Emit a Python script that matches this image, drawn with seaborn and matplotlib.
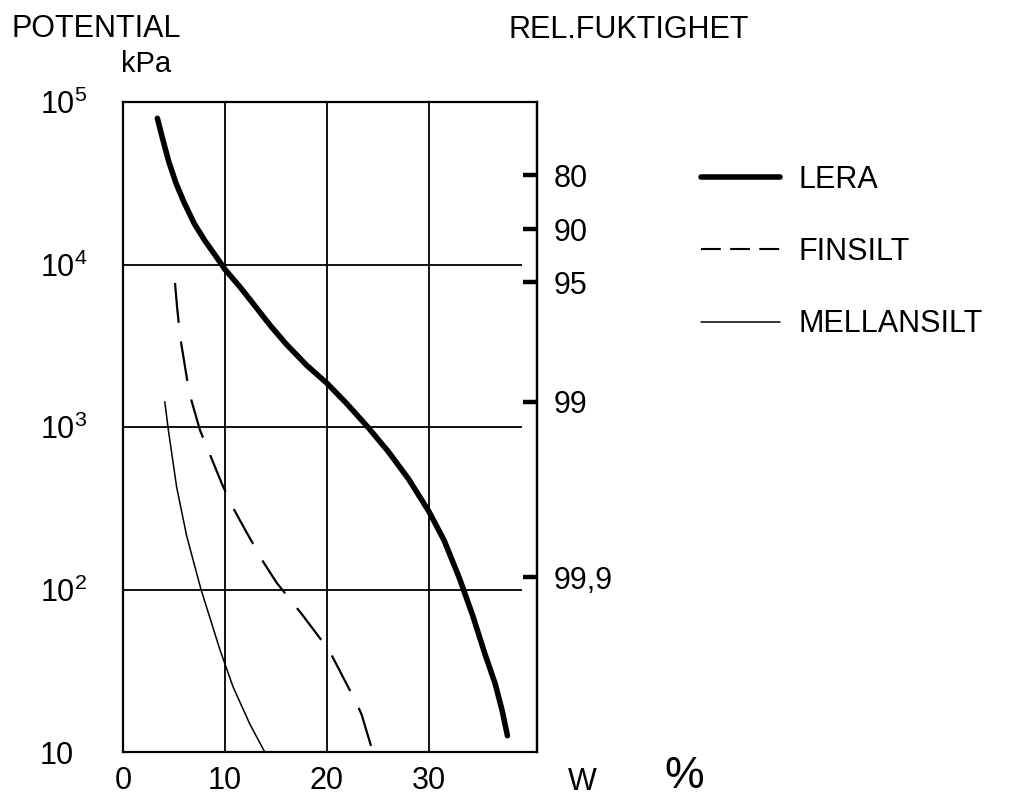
import matplotlib
matplotlib.use("Agg")
import matplotlib.pyplot as plt
from matplotlib.lines import Line2D
import seaborn as sns
import pandas as pd

# ---- data ----
lera_w = [3.37, 3.9, 4.5, 5.2, 6.0, 7.0, 8.0, 9.0, 10.0, 11.5, 13.0, 14.5, 16.0, 18.0, 20.0,
          22.0, 24.0, 26.0, 28.0, 30.0, 31.5, 33.0, 34.3, 35.5, 36.5, 37.2, 37.7]
lera_p = [79400, 58900, 42700, 31600, 24000, 17800, 14100, 11500, 9330, 7240, 5500, 4170, 3240,
          2400, 1860, 1380, 1000, 708, 479, 302, 200, 117, 69, 40, 26.3, 17.8, 12.6]

finsilt_w = [5.1, 5.3, 5.6, 6.5, 7.55, 8.2, 9.7, 10.65, 11.96, 13.75, 15.07, 17.5, 19.8, 20.5,
             22.9, 23.4, 24.5]
finsilt_p = [7700, 5500, 3600, 1620, 955, 760, 447, 331, 234, 148, 110, 71, 45.7, 39, 20, 17, 10]

mellansilt_w = [4.1, 4.45, 5.26, 6.24, 7.65, 9.5, 10.8, 12.45, 13.9]
mellansilt_p = [1430, 955, 427, 214, 100, 42.7, 25.1, 14.8, 10]

series_names = ["LERA", "FINSILT", "MELLANSILT"]

x_ticks = [0, 10, 20, 30]
x_ticklabels = ["0", "10", "20", "30"]
y_ticks = [10, 100, 1000, 10000, 100000]
y_ticklabels = ["10", "$10^2$", "$10^3$", "$10^4$", "$10^5$"]

rh_labels = ["80", "90", "95", "99", "99,9"]
rh_potential = [35500, 16500, 7800, 1430, 119]

# ---- style ----
sns.set_style("white")
plt.rcParams["font.family"] = ["Liberation Sans", "DejaVu Sans"]
plt.rcParams["mathtext.default"] = "regular"
for k in ["text.color", "axes.labelcolor", "xtick.color", "ytick.color", "axes.edgecolor"]:
    plt.rcParams[k] = "black"

FS = 22
fig = plt.figure(figsize=(10.2, 8.0), dpi=100)
ax = fig.add_axes([123 / 1020, 1 - 752 / 800, (537 - 123) / 1020, (752 - 102) / 800])

ax.set_yscale("log")
ax.set_xlim(0, 40.6)
ax.set_ylim(10, 100000)

# grid lines (horizontal ones stop short of the right axis)
for yv in [100, 1000, 10000]:
    ax.hlines(yv, 0, 39.1, color="black", lw=1.3, zorder=1)
for xv in [10, 20, 30]:
    ax.axvline(xv, color="black", lw=1.3, zorder=1)

df_l = pd.DataFrame({"w": lera_w, "p": lera_p})
df_f = pd.DataFrame({"w": finsilt_w, "p": finsilt_p})
df_m = pd.DataFrame({"w": mellansilt_w, "p": mellansilt_p})

sns.lineplot(data=df_l, x="w", y="p", ax=ax, color="black", lw=4.0, sort=False,
             estimator=None, solid_capstyle="round", solid_joinstyle="round", zorder=3)
sns.lineplot(data=df_f, x="w", y="p", ax=ax, color="black", lw=1.6, sort=False,
             estimator=None, zorder=3)
ax.lines[-1].set_dashes([18, 8.5])
sns.lineplot(data=df_m, x="w", y="p", ax=ax, color="black", lw=1.1, sort=False,
             estimator=None, zorder=3, solid_joinstyle="round")

for s in ax.spines.values():
    s.set_color("black")
    s.set_linewidth(1.6)
    s.set_visible(True)

ax.set_xlabel("")
ax.set_ylabel("")
ax.set_xticks(x_ticks)
ax.set_xticklabels(x_ticklabels, fontsize=FS)
ax.set_yticks(y_ticks)
ax.set_yticklabels(y_ticklabels, fontsize=FS)
ax.minorticks_off()
ax.tick_params(axis="x", length=0, pad=10)
ax.tick_params(axis="y", length=0, pad=60)
for lab in ax.get_yticklabels():
    lab.set_horizontalalignment("left")

# right axis: relative humidity
ax2 = ax.twinx()
ax2.set_yscale("log")
ax2.set_ylim(10, 100000)
ax2.set_yticks(rh_potential)
ax2.set_yticklabels(rh_labels, fontsize=FS)
ax2.minorticks_off()
ax2.tick_params(axis="y", direction="in", length=10, width=3.2, pad=12, colors="black")
for s in ax2.spines.values():
    s.set_visible(False)
ax2.spines["right"].set_visible(True)
ax2.spines["right"].set_linewidth(1.6)
ax2.spines["right"].set_color("black")

# titles and axis annotations
fig.text(12 / 1020, 1 - 37 / 800, "POTENTIAL", fontsize=FS, ha="left", va="baseline")
fig.text(121 / 1020, 1 - 72 / 800, "kPa", fontsize=FS - 1, ha="left", va="baseline")
fig.text(629 / 1020, 1 - 38 / 800, "REL.FUKTIGHET", fontsize=FS, ha="center", va="baseline")
fig.text(582 / 1020, 1 - 782 / 800, "W", fontsize=FS, ha="center", va="center")
fig.text(684 / 1020, 1 - 776 / 800, "%", fontsize=32, ha="center", va="center")

# legend (proxy handles with legend-sized dash pattern)
proxies = [
    Line2D([], [], color="black", lw=4.0, solid_capstyle="round"),
    Line2D([], [], color="black", lw=1.5, dashes=[9.5, 4.5]),
    Line2D([], [], color="black", lw=1.1),
]
leg = fig.legend(proxies, series_names, loc="upper left",
                 bbox_to_anchor=(701 / 1020, 1 - 165 / 800), frameon=False,
                 fontsize=FS, handlelength=2.6, handletextpad=0.6,
                 labelspacing=1.38, borderpad=0, borderaxespad=0)
for t in leg.get_texts():
    t.set_color("black")

fig.savefig("out.png", dpi=100, facecolor="white")
